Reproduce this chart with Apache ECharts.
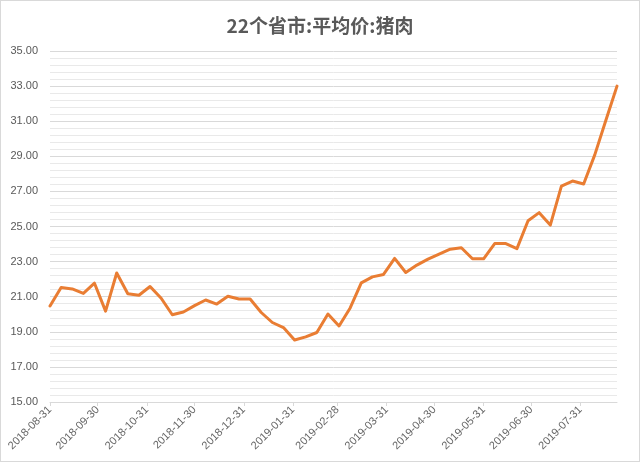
<!DOCTYPE html>
<html>
<head>
<meta charset="utf-8">
<script src="https://cdn.jsdelivr.net/npm/echarts@6/dist/echarts.min.js"></script>
<style>
html,body{margin:0;padding:0;background:#fff;}
#wrap{width:640px;height:462px;box-sizing:border-box;border:1px solid #d9d9d9;}
#chart{width:638px;height:460px;}
</style>
</head>
<body>
<div id="wrap"><div id="chart"></div></div>
<script>
var titleText = '22个省市:平均价:猪肉';

var dates = [
  '2018-08-31','2018-09-07','2018-09-14','2018-09-21','2018-09-28',
  '2018-10-05','2018-10-12','2018-10-19','2018-10-26',
  '2018-11-02','2018-11-09','2018-11-16','2018-11-23','2018-11-30',
  '2018-12-07','2018-12-14','2018-12-21','2018-12-28',
  '2019-01-04','2019-01-11','2019-01-18','2019-01-25',
  '2019-02-01','2019-02-08','2019-02-15','2019-02-22',
  '2019-03-01','2019-03-08','2019-03-15','2019-03-22','2019-03-29',
  '2019-04-05','2019-04-12','2019-04-19','2019-04-26',
  '2019-05-03','2019-05-10','2019-05-17','2019-05-24','2019-05-31',
  '2019-06-07','2019-06-14','2019-06-21','2019-06-28',
  '2019-07-05','2019-07-12','2019-07-19','2019-07-26',
  '2019-08-02','2019-08-09','2019-08-16','2019-08-23'
];

var prices = [
  20.47, 21.53, 21.44, 21.19, 21.77,
  20.18, 22.35, 21.17, 21.08,
  21.58, 20.91, 19.97, 20.13, 20.49,
  20.81, 20.58, 21.03, 20.87,
  20.87, 20.10, 19.53, 19.24,
  18.53, 18.71, 18.96, 20.01,
  19.33, 20.36, 21.79, 22.13, 22.27,
  23.18, 22.38, 22.80, 23.14,
  23.43, 23.71, 23.79, 23.16, 23.16,
  24.03, 24.03, 23.74, 25.33,
  25.79, 25.08, 27.30, 27.59,
  27.42, 29.08, 31.05, 33.00
];

var tickDates = [
  '2018-08-31','2018-09-30','2018-10-31','2018-11-30','2018-12-31',
  '2019-01-31','2019-02-28','2019-03-31','2019-04-30','2019-05-31',
  '2019-06-30','2019-07-31'
];

var yMin = 15, yMax = 35, yStep = 2;

var DAY = 86400000;
function toDay(s) {
  var p = s.split('-');
  return Math.round(Date.UTC(+p[0], +p[1] - 1, +p[2]) / DAY);
}
function fmt(dayNum) {
  var d = new Date(Math.round(dayNum) * DAY);
  var m = d.getUTCMonth() + 1, dd = d.getUTCDate();
  return d.getUTCFullYear() + '-' + (m < 10 ? '0' : '') + m + '-' + (dd < 10 ? '0' : '') + dd;
}

var seriesData = dates.map(function (d, i) { return [toDay(d), prices[i]]; });
var tickDays = tickDates.map(toDay);

var chart = echarts.init(document.getElementById('chart'));
chart.setOption({
  animation: false,
  backgroundColor: '#ffffff',
  title: {
    text: titleText,
    left: 'center',
    top: 10,
    textStyle: {
      fontFamily: 'Noto Sans CJK SC',
      fontSize: 19,
      fontWeight: 'bold',
      color: '#595959'
    }
  },
  grid: {
    left: 49,
    right: 22,
    top: 50,
    bottom: 59
  },
  xAxis: {
    type: 'value',
    min: toDay(dates[0]),
    max: toDay(dates[dates.length - 1]),
    axisLine: { show: true, onZero: false, lineStyle: { color: '#d9d9d9', width: 1 } },
    axisTick: {
      show: true,
      customValues: tickDays,
      length: 4,
      lineStyle: { color: '#d9d9d9' }
    },
    axisLabel: {
      customValues: tickDays,
      rotate: 45,
      formatter: function (v) { return fmt(v); },
      color: '#666666',
      fontFamily: 'Liberation Sans',
      fontSize: 11,
      margin: 6,
      showMinLabel: true,
      showMaxLabel: true
    },
    splitLine: { show: false }
  },
  yAxis: {
    type: 'value',
    min: yMin,
    max: yMax,
    interval: yStep,
    axisLine: { show: false },
    axisTick: { show: false },
    axisLabel: {
      formatter: function (v) { return v.toFixed(2); },
      color: '#595959',
      fontFamily: 'Liberation Sans',
      fontSize: 11,
      margin: 12
    },
    splitLine: { show: true, lineStyle: { color: '#d9d9d9', width: 1 } },
    minorTick: { show: false, splitNumber: 5 },
    minorSplitLine: { show: true, lineStyle: { color: '#e9e9e9', width: 1 } }
  },
  series: [{
    type: 'line',
    data: seriesData,
    showSymbol: false,
    symbol: 'none',
    smooth: false,
    lineStyle: { color: '#E97D33', width: 3, join: 'round', cap: 'round' },
    itemStyle: { color: '#E97D33' }
  }]
});
</script>
</body>
</html>
